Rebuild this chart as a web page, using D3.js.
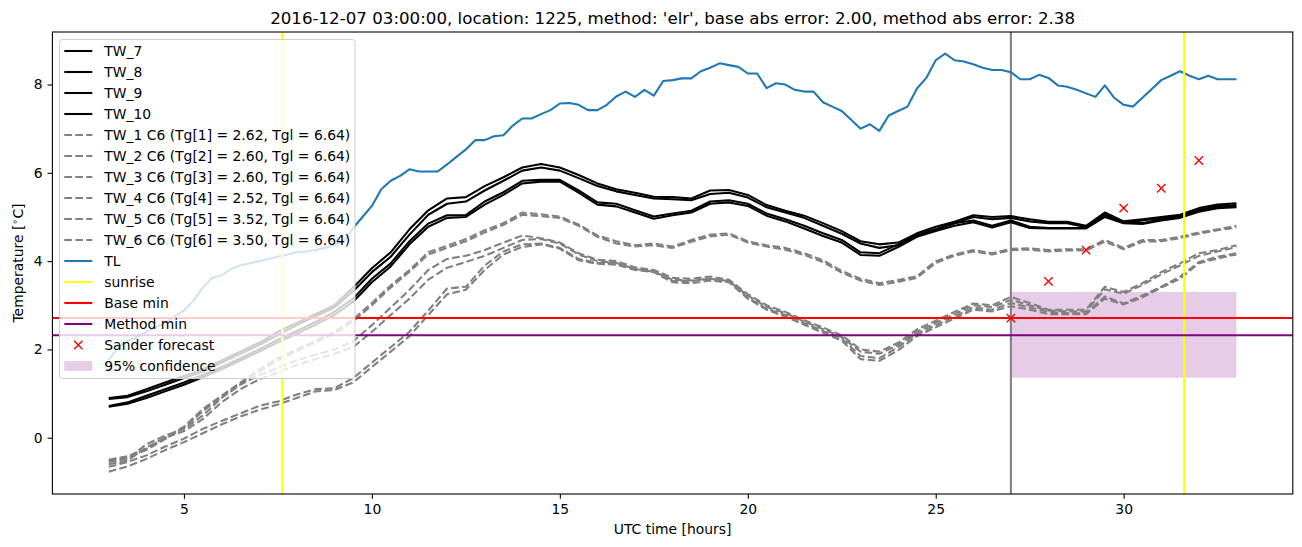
<!DOCTYPE html>
<html>
<head>
<meta charset="utf-8">
<title>Ground temperature forecast</title>
<style>
  body { margin: 0; background: #fff; }
  .chart { font-family: 'DejaVu Sans', sans-serif; }
</style>
</head>
<body>
<svg width="1302" height="547" class="chart"></svg>
<script src="https://cdn.jsdelivr.net/npm/d3@7/dist/d3.min.js"></script>
<script>

// ---- data ----
var hoursHalf = [3,3.5,4,4.5,5,5.5,6,6.5,7,7.5,8,8.5,9,9.5,10,10.5,11,11.5,12,12.5,13,13.5,14,14.5,15,15.5,16,16.5,17,17.5,18,18.5,19,19.5,20,20.5,21,21.5,22,22.5,23,23.5,24,24.5,25,25.5,26,26.5,27,27.5,28,28.5,29,29.5,30,30.5,31,31.5,32,32.5,33]

var hoursQuarter = [3,3.25,3.5,3.75,4,4.25,4.5,4.75,5,5.25,5.5,5.75,6,6.25,6.5,6.75,7,7.25,7.5,7.75,8,8.25,8.5,8.75,9,9.25,9.5,9.75,10,10.25,10.5,10.75,11,11.25,11.5,11.75,12,12.25,12.5,12.75,13,13.25,13.5,13.75,14,14.25,14.5,14.75,15,15.25,15.5,15.75,16,16.25,16.5,16.75,17,17.25,17.5,17.75,18,18.25,18.5,18.75,19,19.25,19.5,19.75,20,20.25,20.5,20.75,21,21.25,21.5,21.75,22,22.25,22.5,22.75,23,23.25,23.5,23.75,24,24.25,24.5,24.75,25,25.25,25.5,25.75,26,26.25,26.5,26.75,27,27.25,27.5,27.75,28,28.25,28.5,28.75,29,29.25,29.5,29.75,30,30.25,30.5,30.75,31,31.25,31.5,31.75,32,32.25,32.5,32.75,33]

var tw7 = [0.9,0.95,1.1,1.25,1.4,1.55,1.75,1.95,2.15,2.4,2.6,2.8,3.0,3.4,3.84,4.2,4.72,5.15,5.42,5.45,5.7,5.9,6.12,6.2,6.12,5.95,5.76,5.63,5.55,5.46,5.45,5.42,5.6,5.61,5.5,5.27,5.14,5.03,4.86,4.68,4.45,4.38,4.42,4.63,4.78,4.89,5.04,5.0,5.02,4.95,4.89,4.89,4.8,5.1,4.9,4.95,5.0,5.05,5.2,5.28,5.31]
var tw8 = [0.88,0.92,1.05,1.2,1.35,1.5,1.7,1.9,2.1,2.33,2.55,2.75,2.95,3.32,3.75,4.1,4.6,5.05,5.3,5.35,5.6,5.82,6.05,6.12,6.05,5.88,5.7,5.58,5.5,5.42,5.4,5.38,5.52,5.55,5.44,5.22,5.1,4.98,4.8,4.62,4.4,4.3,4.36,4.58,4.72,4.86,5.0,4.95,4.98,4.9,4.86,4.86,4.77,5.05,4.87,4.92,4.98,5.02,5.16,5.24,5.27]
var tw9 = [0.72,0.8,0.95,1.1,1.25,1.42,1.6,1.8,2.0,2.22,2.42,2.62,2.85,3.15,3.6,3.95,4.45,4.85,5.04,5.04,5.35,5.56,5.82,5.84,5.84,5.6,5.33,5.3,5.15,5.01,5.08,5.14,5.35,5.38,5.3,5.08,4.95,4.8,4.63,4.48,4.2,4.18,4.38,4.6,4.72,4.86,4.92,4.8,4.92,4.78,4.75,4.75,4.75,5.05,4.88,4.86,4.95,5.0,5.15,5.22,5.24]
var tw10 = [0.7,0.77,0.9,1.05,1.2,1.37,1.55,1.75,1.95,2.16,2.36,2.56,2.78,3.08,3.52,3.88,4.38,4.78,4.98,5.0,5.28,5.5,5.76,5.8,5.8,5.55,5.28,5.24,5.1,4.96,5.04,5.1,5.3,5.33,5.25,5.03,4.9,4.74,4.57,4.42,4.14,4.12,4.32,4.55,4.68,4.8,4.88,4.76,4.88,4.75,4.74,4.74,4.74,5.0,4.86,4.84,4.92,4.98,5.12,5.2,5.22]

var tw1c6 = [-0.55,-0.48,-0.15,0.05,0.2,0.5,0.9,1.2,1.42,1.58,1.75,1.88,2.0,2.18,2.55,2.95,3.35,3.8,4.05,4.12,4.25,4.42,4.58,4.52,4.42,4.18,4.03,4.0,3.86,3.8,3.62,3.6,3.65,3.58,3.25,3.0,2.85,2.66,2.5,2.32,2.0,1.95,2.15,2.45,2.65,2.85,3.04,3.0,3.19,3.05,2.9,2.9,2.9,3.42,3.3,3.5,3.75,3.95,4.18,4.25,4.36]
var tw2c6 = [-0.6,-0.52,-0.22,0.0,0.15,0.42,0.8,1.1,1.32,1.48,1.65,1.78,1.9,2.05,2.4,2.78,3.15,3.58,3.85,3.98,4.12,4.3,4.48,4.5,4.4,4.15,4.0,3.96,3.82,3.76,3.58,3.56,3.6,3.55,3.22,2.96,2.82,2.63,2.46,2.28,1.95,1.9,2.1,2.4,2.6,2.8,3.0,2.96,3.12,3.0,2.88,2.86,2.86,3.36,3.26,3.46,3.7,3.9,4.12,4.22,4.32]
var tw3c6 = [-0.66,-0.55,-0.4,-0.2,-0.02,0.2,0.38,0.55,0.72,0.82,0.98,1.1,1.12,1.35,1.7,2.05,2.4,2.88,3.38,3.42,3.9,4.22,4.38,4.4,4.3,4.05,3.96,3.95,3.82,3.78,3.55,3.55,3.6,3.55,3.18,2.92,2.78,2.6,2.42,2.25,1.85,1.8,2.05,2.35,2.55,2.75,2.95,2.9,3.05,2.95,2.85,2.82,2.82,3.2,3.04,3.22,3.42,3.65,3.98,4.1,4.18]
var tw4c6 = [-0.77,-0.65,-0.48,-0.28,-0.1,0.1,0.3,0.48,0.63,0.75,0.9,1.05,1.08,1.25,1.6,1.95,2.3,2.78,3.25,3.35,3.8,4.15,4.32,4.38,4.28,4.02,3.94,3.92,3.8,3.75,3.52,3.5,3.56,3.52,3.15,2.9,2.74,2.56,2.38,2.2,1.78,1.74,1.98,2.3,2.5,2.7,2.9,2.86,2.98,2.9,2.8,2.8,2.8,3.15,3.02,3.18,3.4,3.6,3.95,4.06,4.15]
var tw5c6 = [-0.5,-0.42,-0.25,0.0,0.25,0.65,0.95,1.25,1.55,1.8,2.0,2.2,2.4,2.68,3.05,3.45,3.8,4.2,4.35,4.5,4.7,4.86,5.1,5.06,5.01,4.83,4.58,4.45,4.36,4.4,4.33,4.48,4.6,4.63,4.45,4.36,4.3,4.18,4.02,3.78,3.6,3.5,3.57,3.66,4.0,4.15,4.25,4.18,4.28,4.29,4.25,4.27,4.27,4.48,4.3,4.48,4.48,4.55,4.65,4.72,4.8]
var tw6c6 = [-0.52,-0.45,-0.28,-0.03,0.22,0.6,0.92,1.22,1.5,1.76,1.96,2.16,2.36,2.63,3.0,3.4,3.76,4.15,4.3,4.45,4.65,4.82,5.05,5.02,4.98,4.8,4.55,4.4,4.33,4.36,4.3,4.44,4.56,4.6,4.42,4.33,4.26,4.14,3.98,3.74,3.56,3.46,3.53,3.62,3.96,4.12,4.22,4.15,4.25,4.26,4.22,4.24,4.24,4.44,4.27,4.44,4.45,4.52,4.62,4.7,4.76]

var tl = [1.76,2.05,2.2,2.28,2.4,2.5,2.6,2.75,2.88,3.1,3.4,3.62,3.68,3.82,3.9,3.95,4.0,4.05,4.1,4.15,4.2,4.22,4.25,4.3,4.36,4.45,4.75,5.0,5.25,5.63,5.82,5.93,6.08,6.03,6.03,6.03,6.19,6.36,6.53,6.74,6.74,6.83,6.85,7.07,7.23,7.23,7.33,7.42,7.57,7.58,7.54,7.42,7.42,7.54,7.73,7.84,7.72,7.88,7.75,8.08,8.1,8.14,8.14,8.3,8.38,8.48,8.44,8.4,8.25,8.25,7.92,8.03,8.0,7.88,7.84,7.84,7.6,7.5,7.4,7.2,7.0,7.1,6.95,7.3,7.4,7.5,7.91,8.15,8.55,8.7,8.55,8.52,8.46,8.38,8.33,8.33,8.28,8.12,8.12,8.22,8.15,7.98,7.95,7.88,7.8,7.72,7.98,7.7,7.54,7.5,7.7,7.9,8.1,8.2,8.3,8.2,8.12,8.2,8.12,8.12,8.12]

var sunriseHours = [7.62, 31.61]
var nowHour = 27
var baseMin = 2.71
var methodMin = 2.32
var sanderHours = [27, 28, 29, 30, 31, 32]
var sanderValues = [2.71, 3.54, 4.25, 5.2, 5.65, 6.28]
var confHours = [27, 33]
var confLow = 1.36
var confHigh = 3.30

var xTicks = [5, 10, 15, 20, 25, 30]
var yTicks = [0, 2, 4, 6, 8]

var titleText = "2016-12-07 03:00:00, location: 1225, method: 'elr', base abs error: 2.00, method abs error: 2.38"

// ---- layout ----
var svg = d3.select('.chart')
var pLeft = 52.4, pRight = 1292.8, pTop = 32, pBottom = 494

var x = d3.scaleLinear().domain([1.5, 34.5]).range([pLeft, pRight])
var y = d3.scaleLinear().domain([-1.275, 9.19]).range([pBottom, pTop])

var line = d3.line()
	.x(function(d) { return x(d[0]) })
	.y(function(d) { return y(d[1]) })

var plot = svg.append('g').attr('class', 'plot')

// confidence band (drawn under the lines)
plot.append('rect')
	.attr('x', x(confHours[0]))
	.attr('y', y(confHigh))
	.attr('width', x(confHours[1]) - x(confHours[0]))
	.attr('height', y(confLow) - y(confHigh))
	.attr('fill', 'purple')
	.attr('fill-opacity', 0.2)

// forecast time marker
plot.append('line')
	.attr('x1', x(nowHour)).attr('x2', x(nowHour))
	.attr('y1', pTop).attr('y2', pBottom)
	.attr('stroke', 'gray').attr('stroke-width', 2.08)

var solidSeries = [tw7, tw8, tw9, tw10]
var dashedSeries = [tw1c6, tw2c6, tw3c6, tw4c6, tw5c6, tw6c6]

plot.append('g')
	.selectAll('path')
	.data(solidSeries)
	.enter()
	.append('path')
	.attr('d', function(d) { return line(d3.zip(hoursHalf, d)) })
	.attr('fill', 'none')
	.attr('stroke', 'black')
	.attr('stroke-width', 2.08)
	.attr('stroke-linejoin', 'round')

plot.append('g')
	.selectAll('path')
	.data(dashedSeries)
	.enter()
	.append('path')
	.attr('d', function(d) { return line(d3.zip(hoursHalf, d)) })
	.attr('fill', 'none')
	.attr('stroke', 'gray')
	.attr('stroke-width', 2.08)
	.attr('stroke-dasharray', '7.7,3.3')
	.attr('stroke-linejoin', 'round')

plot.append('path')
	.attr('d', line(d3.zip(hoursQuarter, tl)))
	.attr('fill', 'none')
	.attr('stroke', '#1f77b4')
	.attr('stroke-width', 2.08)
	.attr('stroke-linejoin', 'round')

plot.selectAll('.sunrise')
	.data(sunriseHours)
	.enter()
	.append('line')
	.attr('class', 'sunrise')
	.attr('x1', function(d) { return x(d) }).attr('x2', function(d) { return x(d) })
	.attr('y1', pTop).attr('y2', pBottom)
	.attr('stroke', 'yellow').attr('stroke-width', 2.08)

plot.selectAll('.hmin')
	.data([[baseMin, 'red'], [methodMin, 'purple']])
	.enter()
	.append('line')
	.attr('class', 'hmin')
	.attr('x1', pLeft).attr('x2', pRight)
	.attr('y1', function(d) { return y(d[0]) }).attr('y2', function(d) { return y(d[0]) })
	.attr('stroke', function(d) { return d[1] }).attr('stroke-width', 2.08)

function cross(g, cx, cy) {
	var r = 4.17
	g.append('path')
		.attr('d', 'M' + (cx - r) + ',' + (cy - r) + 'L' + (cx + r) + ',' + (cy + r) +
			'M' + (cx - r) + ',' + (cy + r) + 'L' + (cx + r) + ',' + (cy - r))
		.attr('stroke', 'red')
		.attr('stroke-width', 1.4)
		.attr('fill', 'none')
}

var sanderG = plot.append('g')
d3.zip(sanderHours, sanderValues).forEach(function(d) { cross(sanderG, x(d[0]), y(d[1])) })

// ---- frame and axes ----
svg.append('rect')
	.attr('x', pLeft).attr('y', pTop)
	.attr('width', pRight - pLeft).attr('height', pBottom - pTop)
	.attr('fill', 'none').attr('stroke', 'black').attr('stroke-width', 1.1)

svg.append('g')
	.attr('transform', 'translate(0,' + pBottom + ')')
	.call(d3.axisBottom(x).tickValues(xTicks).tickSize(4.86).tickPadding(4.86).tickFormat(d3.format('d')))
svg.append('g')
	.attr('transform', 'translate(' + pLeft + ',0)')
	.call(d3.axisLeft(y).tickValues(yTicks).tickSize(4.86).tickPadding(4.86).tickFormat(d3.format('d')))

svg.selectAll('.domain').remove()
svg.selectAll('.tick line').attr('stroke', 'black').attr('stroke-width', 1.1)
svg.selectAll('.tick text')
	.attr('font-family', 'DejaVu Sans')
	.attr('font-size', 13.9)
	.attr('fill', 'black')

svg.append('text')
	.attr('x', (pLeft + pRight) / 2).attr('y', 24)
	.attr('text-anchor', 'middle')
	.attr('font-size', 16.67)
	.text(titleText)

svg.append('text')
	.attr('x', (pLeft + pRight) / 2).attr('y', 534)
	.attr('text-anchor', 'middle')
	.attr('font-size', 13.9)
	.text('UTC time [hours]')

var ylab = svg.append('text')
	.attr('transform', 'translate(23,' + (pTop + pBottom) / 2 + ') rotate(-90)')
	.attr('text-anchor', 'middle')
	.attr('font-size', 13.9)
ylab.append('tspan').text('Temperature [')
ylab.append('tspan').attr('font-size', 9.7).attr('dy', -5).text('\u2218')
ylab.append('tspan').attr('dy', 5).text('C]')

// ---- legend ----
var legendItems = [
	{label: 'TW_7', kind: 'line', color: 'black'},
	{label: 'TW_8', kind: 'line', color: 'black'},
	{label: 'TW_9', kind: 'line', color: 'black'},
	{label: 'TW_10', kind: 'line', color: 'black'},
	{label: 'TW_1 C6 (Tg[1] = 2.62, Tgl = 6.64)', kind: 'dash', color: 'gray'},
	{label: 'TW_2 C6 (Tg[2] = 2.60, Tgl = 6.64)', kind: 'dash', color: 'gray'},
	{label: 'TW_3 C6 (Tg[3] = 2.60, Tgl = 6.64)', kind: 'dash', color: 'gray'},
	{label: 'TW_4 C6 (Tg[4] = 2.52, Tgl = 6.64)', kind: 'dash', color: 'gray'},
	{label: 'TW_5 C6 (Tg[5] = 3.52, Tgl = 6.64)', kind: 'dash', color: 'gray'},
	{label: 'TW_6 C6 (Tg[6] = 3.50, Tgl = 6.64)', kind: 'dash', color: 'gray'},
	{label: 'TL', kind: 'line', color: '#1f77b4'},
	{label: 'sunrise', kind: 'line', color: 'yellow'},
	{label: 'Base min', kind: 'line', color: 'red'},
	{label: 'Method min', kind: 'line', color: 'purple'},
	{label: 'Sander forecast', kind: 'cross', color: 'red'},
	{label: '95% confidence', kind: 'patch', color: 'purple'}
]

var legend = svg.append('g').attr('class', 'legend')
legend.append('rect')
	.attr('x', 59.5).attr('y', 39.5)
	.attr('width', 295.5).attr('height', 339)
	.attr('rx', 3)
	.attr('fill', 'white').attr('fill-opacity', 0.8)
	.attr('stroke', '#cccccc').attr('stroke-width', 1)

legendItems.forEach(function(item, i) {
	var cy = 51 + i * 21
	if (item.kind == 'line' || item.kind == 'dash') {
		legend.append('line')
			.attr('x1', 64.3).attr('x2', 92.3)
			.attr('y1', cy).attr('y2', cy)
			.attr('stroke', item.color).attr('stroke-width', 2.08)
			.attr('stroke-dasharray', item.kind == 'dash' ? '7.7,3.3' : null)
	} else if (item.kind == 'cross') {
		cross(legend, 78.3, cy)
	} else {
		legend.append('rect')
			.attr('x', 64.3).attr('y', cy - 4.9)
			.attr('width', 28).attr('height', 9.7)
			.attr('fill', item.color).attr('fill-opacity', 0.2)
	}
	legend.append('text')
		.attr('x', 104.3).attr('y', cy)
		.attr('dy', '0.36em')
		.attr('font-size', 13.9)
		.text(item.label)
})

</script>
</body>
</html>
